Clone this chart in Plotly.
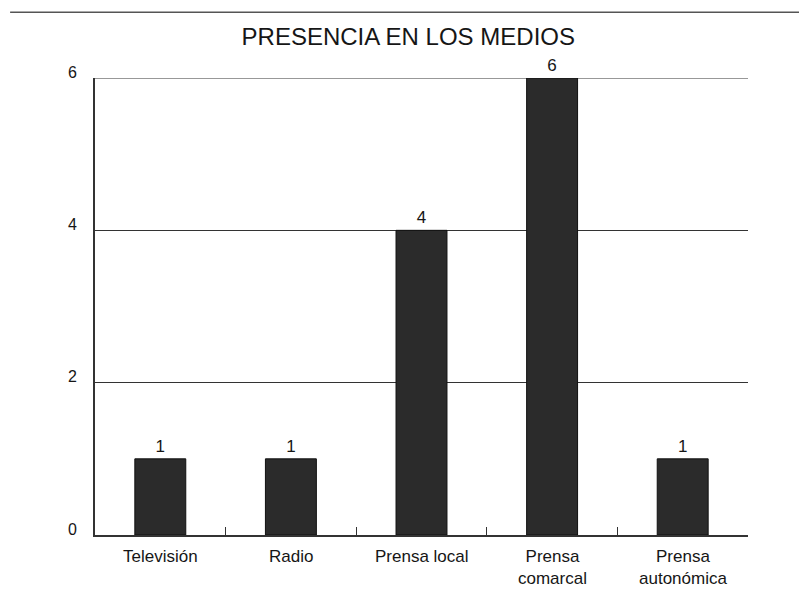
import plotly.graph_objects as go

categories = ["Televisión", "Radio", "Prensa local", "Prensa comarcal", "Prensa autonómica"]
tick_labels = ["Televisión", "Radio", "Prensa local", "Prensa<br>comarcal", "Prensa<br>autonómica"]
values = [1, 1, 4, 6, 1]
y_ticks = [0, 2, 4, 6]
title_text = "PRESENCIA EN LOS MEDIOS"

FONT = "Liberation Sans, Arial, sans-serif"
INK = "#161616"

fig = go.Figure()
fig.add_trace(go.Bar(
    x=categories, y=values,
    width=0.39,
    marker=dict(color="#2b2b2b", line=dict(color="#111", width=1)),
    text=[str(v) for v in values],
    textposition="outside",
    textfont=dict(family=FONT, size=17, color=INK),
    cliponaxis=False,
))

annotations = [
    dict(x=-0.035, y=t, xref="paper", yref="y", text=str(t), showarrow=False,
         xanchor="center", yanchor="middle", yshift=6,
         font=dict(family=FONT, size=16, color=INK))
    for t in y_ticks
]
for cat, lab in zip(categories, tick_labels):
    annotations.append(dict(x=cat, y=0, xref="x", yref="y", text=lab, showarrow=False,
                            xanchor="center", yanchor="top", yshift=-10,
                            font=dict(family=FONT, size=17, color=INK)))

shapes = [
    dict(type="line", xref="paper", yref="paper", x0=-0.13, x1=1.09,
         y0=1.144, y1=1.144, line=dict(color="#555", width=1.5)),
    dict(type="line", xref="paper", yref="y", x0=0, x1=1, y0=6, y1=6,
         line=dict(color="#333", width=1.2), layer="below"),
]

fig.update_layout(
    width=807, height=602,
    margin=dict(l=87, r=67, t=70, b=75),
    paper_bgcolor="white", plot_bgcolor="white",
    showlegend=False,
    title=dict(text=title_text, x=0.496, xanchor="center", y=0.952, yanchor="middle",
               font=dict(family=FONT, size=24, color=INK)),
    annotations=annotations,
    shapes=shapes,
    xaxis=dict(
        type="category", tickson="boundaries", ticks="inside", ticklen=8,
        tickcolor="#333", tickwidth=1.2, showline=True, linecolor="#333", linewidth=1.5,
        showgrid=False, showticklabels=False,
        range=[-0.5, 4.5],
    ),
    yaxis=dict(
        range=[0, 6], tickvals=y_ticks, showticklabels=False,
        showgrid=True, gridcolor="#333", gridwidth=1.2,
        showline=True, linecolor="#333", linewidth=1.5,
        zeroline=False, ticks="",
    ),
)

fig.write_html("out.html")
